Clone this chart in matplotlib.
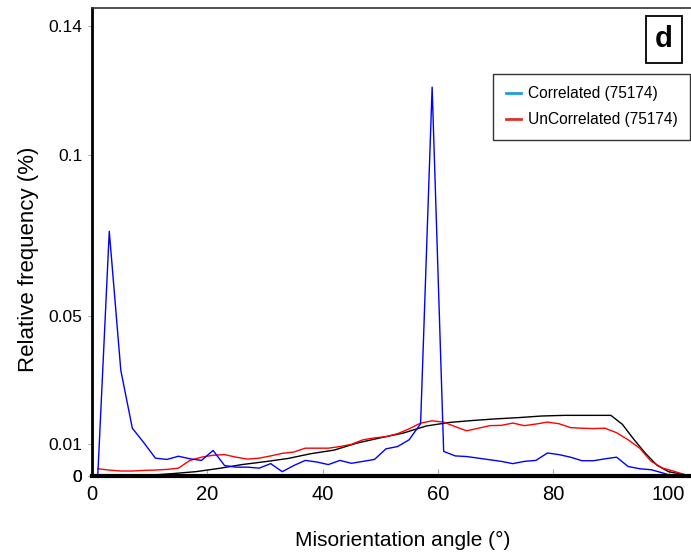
import matplotlib.pyplot as plt
from matplotlib.lines import Line2D

plt.rcParams['font.family'] = ['Liberation Sans', 'DejaVu Sans']

# misorientation angle (deg) for measured data
angles = [1, 3, 5, 7, 9, 11, 13, 15, 17, 19, 21, 23, 25, 27, 29, 31, 33, 35, 37, 39,
          41, 43, 45, 47, 49, 51, 53, 55, 57, 59, 61, 63, 65, 67, 69, 71, 73, 75, 77, 79,
          81, 83, 85, 87, 89, 91, 93, 95, 97, 99, 101, 103]

correlated = [0.0, 0.0762, 0.033, 0.015, 0.0105, 0.0057, 0.0053, 0.0063, 0.0055, 0.005,
              0.0081, 0.0034, 0.0029, 0.0029, 0.0026, 0.004, 0.0015, 0.0034, 0.005, 0.0045,
              0.0037, 0.005, 0.0041, 0.0047, 0.0053, 0.0086, 0.0093, 0.0114, 0.0164, 0.121,
              0.0078, 0.0064, 0.0062, 0.0057, 0.0052, 0.0047, 0.004, 0.0047, 0.005, 0.0073,
              0.0068, 0.006, 0.0049, 0.0049, 0.0055, 0.006, 0.0031, 0.0024, 0.0021, 0.0011,
              0.0, 0.0]

uncorrelated = [0.0024, 0.0020, 0.0017, 0.0017, 0.0019, 0.0020, 0.0022, 0.0026, 0.0050, 0.0060,
                0.0066, 0.0068, 0.0060, 0.0054, 0.0057, 0.0064, 0.0072, 0.0076, 0.0088, 0.0088,
                0.0088, 0.0093, 0.0100, 0.0114, 0.0120, 0.0124, 0.0133, 0.0148, 0.0166, 0.0173,
                0.0169, 0.0155, 0.0142, 0.0150, 0.0158, 0.0159, 0.0166, 0.0158, 0.0163, 0.0169,
                0.0164, 0.0152, 0.0150, 0.0149, 0.0150, 0.0136, 0.0114, 0.0088, 0.0047, 0.0026,
                0.0016, 0.0005]

# random (theoretical) distribution
rand_angles = [6, 10, 14, 18, 22, 26, 30, 34, 38, 42, 46, 50, 54, 58, 62, 66, 70, 74, 78,
               82, 86, 90, 92, 94, 96, 98, 100, 102, 104]
rand_freq = [0.0, 0.0004, 0.0009, 0.0015, 0.0025, 0.0037, 0.0046, 0.0056, 0.0071, 0.0082,
             0.0104, 0.0120, 0.0135, 0.0157, 0.0168, 0.0174, 0.0179, 0.0183, 0.0188, 0.0190,
             0.0190, 0.0190, 0.0162, 0.0115, 0.0072, 0.0035, 0.0015, 0.0008, 0.0002]

fig = plt.figure(figsize=(6.91, 5.54), dpi=100)
ax = fig.add_axes([0.1331, 0.1399, 0.8669, 0.8457])

ax.plot(rand_angles, rand_freq, color='black', lw=1.0)
ax.plot(angles, uncorrelated, color='#ff0000', lw=1.0)
ax.plot(angles, correlated, color='#0000ff', lw=1.0)

ax.set_xlim(0, 103.9)
ax.set_ylim(0, 0.1456)

ax.set_xticks([0, 20, 40, 60, 80, 100])
ax.set_yticks([0, 0.0003, 0.01, 0.05, 0.1, 0.14])
ax.set_yticklabels(['0', '0', '0.01', '0.05', '0.1', '0.14'])
ax.tick_params(axis='x', direction='in', length=5, color='#aaaaaa', labelsize=14.5, pad=6)
ax.tick_params(axis='y', direction='out', length=3, color='#aaaaaa', labelsize=12.5, pad=4)

for side in ['left', 'bottom']:
    ax.spines[side].set_color('black')
ax.spines['left'].set_linewidth(2)
ax.spines['bottom'].set_linewidth(3)
ax.spines['top'].set_linewidth(1.2)
ax.spines['top'].set_color('#333333')
ax.spines['right'].set_visible(False)

ax.set_xlabel('Misorientation angle (°)', fontsize=15)
ax.xaxis.set_label_coords(0.518, -0.117)
ax.set_ylabel('Relative frequency (%)', fontsize=16)
ax.yaxis.set_label_coords(-0.089, 0.464)

handles = [Line2D([], [], color='#1a9fd9', lw=2), Line2D([], [], color='#e0302a', lw=2)]
leg = ax.legend(handles, ['Correlated (75174)', 'UnCorrelated (75174)'],
                loc='upper right', bbox_to_anchor=(0.998, 0.859), borderaxespad=0,
                fontsize=11.2, frameon=True, fancybox=False, handlelength=1.0,
                handletextpad=0.4, borderpad=0.8, labelspacing=0.7)
leg.get_frame().set_edgecolor('black')
leg.get_frame().set_linewidth(1.0)

ax.text(0.97, 0.963, 'd', transform=ax.transAxes, fontsize=21, fontweight='bold',
        ha='right', va='top',
        bbox=dict(boxstyle='square,pad=0.32', facecolor='white', edgecolor='black', lw=1.3))

fig.savefig('out.png', dpi=100)
